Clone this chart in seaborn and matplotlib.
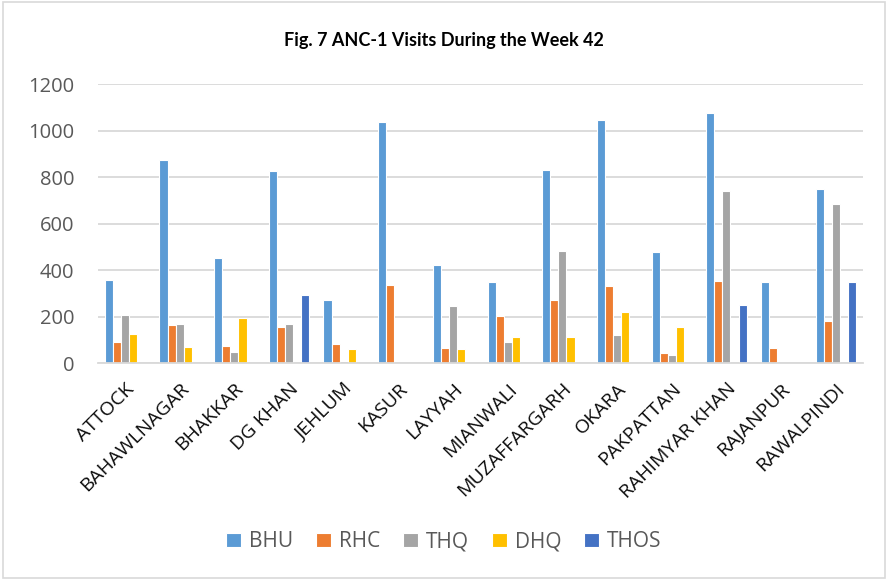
import numpy as np
import pandas as pd
import matplotlib.pyplot as plt
import seaborn as sns
from matplotlib.patches import Rectangle

districts = ["ATTOCK", "BAHAWLNAGAR", "BHAKKAR", "DG KHAN", "JEHLUM", "KASUR", "LAYYAH",
             "MIANWALI", "MUZAFFARGARH", "OKARA", "PAKPATTAN", "RAHIMYAR KHAN",
             "RAJANPUR", "RAWALPINDI"]
bhu = [358, 875, 454, 826, 273, 1035, 424, 349, 831, 1045, 478, 1074, 348, 749]
rhc = [89, 163, 74, 155, 80, 334, 67, 202, 273, 332, 42, 352, 64, 182]
thq = [208, 166, 47, 170, 11, 0, 246, 92, 483, 119, 36, 740, 0, 683]
dhq = [125, 70, 193, 0, 62, 0, 62, 112, 113, 218, 155, 0, 0, 0]
thos = [0, 0, 0, 292, 0, 0, 0, 0, 0, 0, 0, 251, 0, 348]

facilities = ["BHU", "RHC", "THQ", "DHQ", "THOS"]
colors = ["#5B9BD5", "#ED7D31", "#A5A5A5", "#FFC000", "#4472C4"]

wide = pd.DataFrame({"District": districts, "BHU": bhu, "RHC": rhc, "THQ": thq,
                     "DHQ": dhq, "THOS": thos})
df = wide.melt(id_vars="District", var_name="Facility", value_name="Visits")

sns.set_style("white")
plt.rcParams['font.family'] = ['Open Sans', 'DejaVu Sans']

fig = plt.figure(figsize=(8.88, 5.8), dpi=100)
ax = fig.add_axes([0.110, 0.374, 0.862, 0.481])

sns.barplot(data=df, x="District", y="Visits", hue="Facility", hue_order=facilities,
            palette=colors, saturation=1, width=0.74, edgecolor="white", linewidth=0.8, ax=ax)

ax.set_ylim(0, 1200)
ax.set_yticks(range(0, 1201, 200))
ax.yaxis.grid(True, color="#D9D9D9", linewidth=1.3)
ax.set_axisbelow(True)
for s in ["top", "right", "left"]:
    ax.spines[s].set_visible(False)
ax.spines["bottom"].set_color("#D9D9D9")
ax.spines["bottom"].set_linewidth(1.3)
ax.set_xlabel("")
ax.set_ylabel("")
ax.tick_params(axis="y", length=0, labelsize=14.5, labelcolor="#595959", pad=17)
ax.tick_params(axis="x", length=0, labelsize=14, labelcolor="#0d0d0d", pad=12)
plt.setp(ax.get_xticklabels(), rotation=45, ha="right", rotation_mode="anchor")

sns.move_legend(ax, "center", bbox_to_anchor=(0.5, 0.066), bbox_transform=fig.transFigure,
                ncol=5, frameon=False, title=None, fontsize=15, handlelength=0.7,
                handleheight=0.7, columnspacing=1.1, handletextpad=0.4)
for t in ax.get_legend().get_texts():
    t.set_color("#595959")

fig.text(0.5, 0.931, "Fig. 7 ANC-1 Visits During the Week 42", ha="center", va="center",
         fontsize=13, fontweight="bold", color="black", family=["Lato", "DejaVu Sans"])

fig.patches.append(Rectangle((0.003, 0.003), 0.994, 0.994, transform=fig.transFigure,
                             fill=False, edgecolor="#D9D9D9", linewidth=1.2))

fig.savefig("out.png", dpi=100)
